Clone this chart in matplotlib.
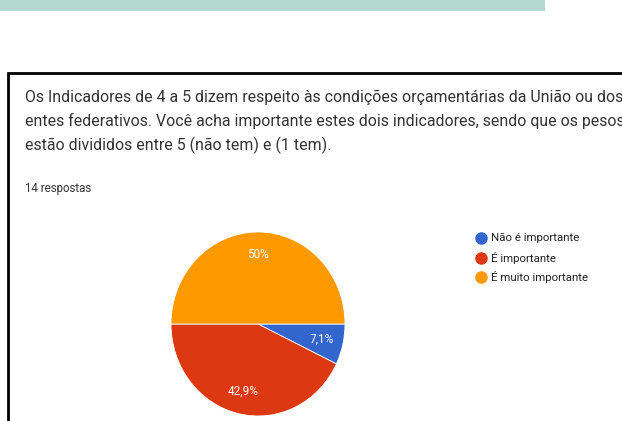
import matplotlib
matplotlib.use("Agg")
import matplotlib.pyplot as plt
from matplotlib.patches import Rectangle

# data
categories = ["Não é importante", "É importante", "É muito importante"]
counts = [1, 6, 7]
colors = ["#3366cc", "#dc3912", "#ff9900"]
question = ["Os Indicadores de 4 a 5 dizem respeito às condições orçamentárias da União ou dos",
            "entes federativos. Você acha importante estes dois indicadores, sendo que os pesos",
            "estão divididos entre 5 (não tem) e (1 tem)."]
n_resp = "14 respostas"

plt.rcParams['font.family'] = ['Roboto', 'DejaVu Sans']

W, H = 622, 421
fig = plt.figure(figsize=(W / 100, H / 100), dpi=100)

# overlay in pixel coords
bg = fig.add_axes([0, 0, 1, 1])
bg.set_xlim(0, W)
bg.set_ylim(H, 0)
bg.axis("off")

bg.add_patch(Rectangle((0, 0), 545, 11, facecolor="#b3d9d1", edgecolor="none"))
bg.add_patch(Rectangle((8, 73), 700, 400, facecolor="white", edgecolor="black", lw=2))

for i, line in enumerate(question):
    bg.text(25, 102 + i * 24, line, fontsize=11.4, color="#333333", va="baseline")
bg.text(25, 192, n_resp, fontsize=8.3, color="#333333", va="baseline")

# legend
for i, (cat, c) in enumerate(zip(categories, colors)):
    y = 238 + i * 19.5
    bg.plot(481, y, "o", color=c, markersize=8)
    bg.text(491, y, cat, fontsize=8.2, color="#222222", va="center")

# pie
cx, cy, rx, ry = 258, 324, 87, 92
ax = fig.add_axes([(cx - rx) / W, 1 - (cy + ry) / H, 2 * rx / W, 2 * ry / H])


def fmt(p):
    s = f"{p:.1f}".rstrip("0").rstrip(".")
    return s.replace(".", ",") + "%"


wedges, texts, autotexts = ax.pie(counts, colors=colors, startangle=0, counterclock=False,
                                  autopct=fmt, pctdistance=0.75,
                                  wedgeprops=dict(edgecolor="white", linewidth=0.6))
for t in autotexts:
    t.set_color("white")
    t.set_fontsize(8.5)
ax.set_aspect("auto")
ax.set_xlim(-1, 1)
ax.set_ylim(-1, 1)
ax.axis("off")

fig.savefig("out.png", dpi=100)
